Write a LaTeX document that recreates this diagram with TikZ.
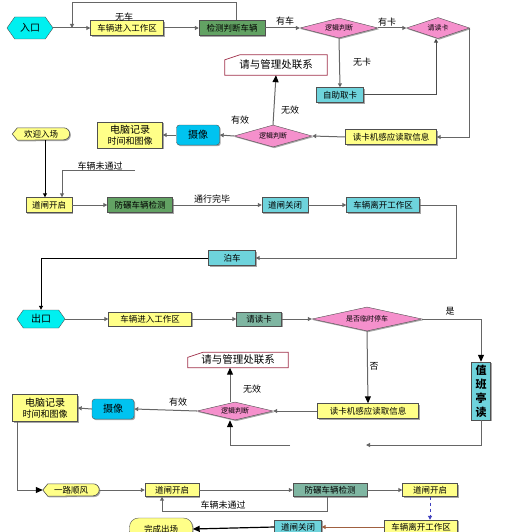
\documentclass[tikz,border=0pt]{standalone}
\usepackage{fontspec}
\newfontfamily\cjk{Noto Sans CJK SC}
\usetikzlibrary{shapes.geometric,shapes.symbols,arrows.meta,shadows,backgrounds}
\definecolor{yel}{HTML}{FFFF88}
\definecolor{cyn}{HTML}{6ED3DC}
\definecolor{hexc}{HTML}{00F0F0}
\definecolor{camc}{HTML}{00C3F0}
\definecolor{grn}{HTML}{62A263}
\definecolor{grnb}{HTML}{7FB6A2}
\definecolor{pnk}{HTML}{F590CC}
\definecolor{bord}{HTML}{505050}
\definecolor{lin}{HTML}{666666}
\definecolor{mgb}{HTML}{A0304A}
\definecolor{brn}{HTML}{A06040}
\tikzset{
  base/.style={draw=bord, inner sep=1pt, text=black,
    drop shadow={shadow xshift=1.2pt, shadow yshift=-1.2pt, fill=black, opacity=.35}},
  box/.style={base, rectangle, minimum height=15pt},
  ybox/.style={box, fill=yel},
  cbox/.style={box, fill=cyn},
  gbox/.style={box, fill=grn},
  g2box/.style={box, fill=grnb},
  camb/.style={base, rectangle, rounded corners=3pt, fill=camc, font=\cjk\fontsize{10}{11}\selectfont},
  dia/.style={base, diamond, aspect=4, inner sep=0pt, fill=pnk, font=\cjk\fontsize{7}{8}\selectfont},
  hex/.style={draw=bord, signal, signal to=west and east, signal pointer angle=110,
    fill=hexc, inner sep=0pt, font=\cjk\fontsize{10}{11}\selectfont},
  plain/.style={inner sep=0pt},
  doc/.style={inner sep=0pt, font=\cjk\fontsize{10.5}{12}\selectfont},
  arr/.style={draw=lin, line width=1pt, -{Triangle[length=4pt,width=4pt]}},
  barr/.style={draw=lin, line width=1pt, -{Triangle[length=7pt,width=6pt,color=black]}},
  lbl/.style={font=\cjk\fontsize{9}{10}\selectfont, inner sep=0pt}
}
\begin{document}
\begin{tikzpicture}[x=1pt,y=-1pt, font=\cjk\fontsize{8.5}{10}\selectfont]
\useasboundingbox (0,0) rectangle (527,532);
\clip (0,0) rectangle (527,532);

% ---------- top part ----------
\node[hex, minimum width=46pt, minimum height=22pt] (in) at (30,28) {入口};
\node[ybox, minimum width=73pt] (e1) at (127,28) {车辆进入工作区};
\node[gbox, minimum width=66pt] (chk) at (232,28) {检测判断车辆};
\node[dia, minimum width=78pt, minimum height=20pt] (d1) at (339,28) {逻辑判断};
\node[dia, minimum width=63pt, minimum height=21pt] (rc) at (438,28) {请读卡};
\node[cbox, minimum width=47pt] (selfc) at (340,95) {自助取卡};
\coordinate (k1) at (436,95);
\node[ybox, minimum width=91pt] (rd1) at (391,137) {读卡机感应读取信息};
\node[dia, minimum width=78pt, minimum height=22pt] (d2) at (273,136) {逻辑判断};
\node[doc, minimum width=102pt, minimum height=20pt] (mg1) at (276,65) {请与管理处联系};
\node[camb, minimum width=43pt, minimum height=20pt] (cam1) at (198,135) {摄像};
\node[ybox, minimum width=65pt, minimum height=26pt, align=center, font=\cjk\fontsize{9}{11}\selectfont] (pc1) at (130,135) {{\fontsize{10}{11}\selectfont 电脑记录}\\时间和图像};
\node[plain, minimum width=57pt, minimum height=12pt] (wel) at (41,134) {欢迎入场};

\node[ybox, minimum width=46pt] (g1) at (49,205) {道闸开启};
\node[gbox, minimum width=65pt] (anti1) at (140,205) {防碾车辆检测};
\node[cbox, minimum width=46pt] (cl1) at (285,205) {道闸关闭};
\node[cbox, minimum width=73pt] (lv1) at (383,205) {车辆离开工作区};
\node[cbox, minimum width=47pt] (park) at (232,258) {泊车};

% ---------- bottom part ----------
\node[hex, minimum width=48pt, minimum height=18pt] (out) at (41,319) {出口};
\node[ybox, minimum width=83pt, minimum height=14pt] (e2) at (150,319) {车辆进入工作区};
\node[g2box, minimum width=45pt, minimum height=14pt] (rc2) at (259,319) {请读卡};
\node[dia, minimum width=110pt, minimum height=24pt] (d3) at (367,319) {是否临时停车};
\node[cbox, minimum width=19pt, minimum height=58pt, align=center, inner sep=0pt, font=\cjk\bfseries\fontsize{11}{14}\selectfont] (duty) at (481,391) {值\\班\\亭\\读};
\node[ybox, minimum width=101pt] (rd2) at (368,411) {读卡机感应读取信息};
\node[dia, minimum width=76pt, minimum height=18pt] (d4) at (235,411) {逻辑判断};
\node[doc, minimum width=100pt, minimum height=15pt] (mg2) at (238,360) {请与管理处联系};
\node[camb, minimum width=42pt, minimum height=20pt] (cam2) at (113,409) {摄像};
\node[ybox, minimum width=65pt, minimum height=27pt, align=center, font=\cjk\fontsize{9}{11}\selectfont] (pc2) at (45,408) {{\fontsize{10}{11}\selectfont 电脑记录}\\时间和图像};
\node[plain, minimum width=56pt, minimum height=12pt] (bye) at (71,490) {一路顺风};
\node[ybox, minimum width=54pt, minimum height=13pt] (g2) at (172,490) {道闸开启};
\node[g2box, minimum width=74pt, minimum height=13pt] (anti2) at (330,490) {防碾车辆检测};
\node[ybox, minimum width=55pt, minimum height=13pt] (g3) at (430,490) {道闸开启};
\node[ybox, minimum width=73pt, minimum height=14pt] (lv2) at (421,527) {车辆离开工作区};
\node[cbox, minimum width=47pt, minimum height=14pt] (cl2) at (298,527) {道闸关闭};
\node[ybox, rounded corners=9pt, minimum width=63pt, minimum height=22pt] (done) at (161,529) {完成出场};

% custom shapes behind text
\begin{scope}[on background layer]
\foreach \n in {mg1,mg2}{
  \draw[draw=mgb, fill=white, line width=0.7pt] (\n.south west) -- ([yshift=-5pt]\n.north west)
    -- ([xshift=15pt]\n.north west) -- (\n.north east) -- (\n.south east) -- cycle;
}
\foreach \n in {wel,bye}{
  \draw[draw=bord, fill=yel, line width=0.6pt,
    drop shadow={shadow xshift=1.2pt, shadow yshift=-1.2pt, fill=black, opacity=.35}]
    (\n.west) -- ([xshift=5pt]\n.north west) -- ([xshift=-6pt]\n.north east)
    arc[start angle=90, end angle=-90, radius=6pt] -- ([xshift=5pt]\n.south west) -- cycle;
}
\end{scope}

% ---------- connectors top ----------
\coordinate (j1) at (72,28);
\draw[arr] (in.east) -- (e1.west);
\draw[arr] ([xshift=4pt]chk.north) -- ++(0,-17.5) -| (j1);
\node[lbl] at (124,17) {无车};
\draw[arr] (e1.east) -- (chk.west);
\draw[arr] (chk.east) -- (d1.west);
\node[lbl] at (285,21) {有车};
\draw[arr] (d1.east) -- (rc.west);
\node[lbl] at (387,22) {有卡};
\draw[arr] (d1.south) -- (selfc.north);
\node[lbl] at (362,62) {无卡};
\draw[arr, draw=black!70] (selfc.east) -- (k1) -- (k1 |- rc.south);
\draw[arr] (rc.east) |- (rd1.east);
\draw[arr] (rd1.west) -- (d2.east);
\draw[barr] (d2.north) -- (mg1.south);
\node[lbl] at (290,110) {无效};
\draw[arr] (d2.west) -- (cam1.east);
\node[lbl] at (240,120) {有效};
\draw[arr] (cam1.west) -- (pc1.east);

\coordinate (n1) at (135,170);
\draw[arr, draw=black] ([xshift=4pt]wel.south) -- ([xshift=-4pt]g1.north);
\draw[arr] (n1) -| ([xshift=13pt]g1.north);
\node[lbl] at (100,166) {车辆未通过};
\draw[arr] (g1.east) -- (anti1.west);
\draw[arr] (anti1.east) -- (cl1.west);
\node[lbl] at (212,199) {通行完毕};
\draw[arr] (cl1.east) -- (lv1.west);
\coordinate (r1) at (456,205);
\draw[arr] (lv1.east) -- (r1) |- (park.east);
\draw[arr, draw=black] (park.west) -| (out.north);

% ---------- connectors bottom ----------
\draw[arr] (out.east) -- (e2.west);
\draw[arr] (e2.east) -- (rc2.west);
\draw[arr] (rc2.east) -- (d3.west);
\draw[barr] (d3.east) -| (duty.north);
\node[lbl] at (450,311) {是};
\draw[barr] (d3.south) -- (rd2.north);
\node[lbl] at (374,366) {否};
\draw[arr] (rd2.west) -- (d4.east);
\draw[barr] ([xshift=-5pt]d4.north) -- ([xshift=-8pt]mg2.south);
\node[lbl] at (252,389) {无效};
\draw[arr] (d4.west) -- (cam2.east);
\node[lbl] at (178,402) {有效};
\draw[arr] (cam2.west) -- (pc2.east);
\coordinate (f1) at (366,445);
\coordinate (f2) at (290,445);
\draw[arr] (duty.south) |- (f1);
\draw[barr] (f2) -| ([xshift=-5pt]d4.south);
\draw[barr] ([xshift=-28pt]pc2.south) |- (bye.west);
\draw[arr] (bye.east) -- (g2.west);
\draw[arr] (g2.east) -- (anti2.west);
\draw[arr] (anti2.east) -- (g3.west);
\draw[arr] ([xshift=-3pt]anti2.south) -- ++(0,14.5) -| ([xshift=-10pt]g2.south);
\node[lbl] at (223,505) {车辆未通过};
\draw[arr, draw=blue!50!gray, dashed] (g3.south) -- ([xshift=9pt]lv2.north);
\draw[arr, draw=brn] (lv2.west) -- (cl2.east);
\draw[draw=black, line width=1.2pt, -{Triangle[length=7pt,width=6pt]}] (cl2.west) -- (done.east);
\end{tikzpicture}
\end{document}
